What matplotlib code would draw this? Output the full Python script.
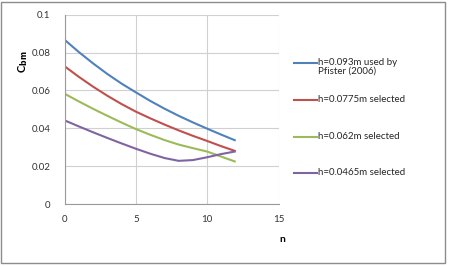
import numpy as np
import matplotlib.pyplot as plt
from matplotlib.lines import Line2D
from matplotlib.patches import Rectangle

plt.rcParams['font.family'] = ['Lato', 'DejaVu Sans']

n = [0, 1, 2, 3, 4, 5, 6, 7, 8, 9, 10, 11, 12]
c_093 = [0.0868, 0.0803, 0.0743, 0.0687, 0.0636, 0.0590, 0.0545, 0.0504, 0.0466, 0.0431, 0.0398, 0.0366, 0.0335]
c_0775 = [0.0728, 0.0672, 0.0620, 0.0572, 0.0528, 0.0488, 0.0453, 0.0420, 0.0389, 0.0360, 0.0333, 0.0305, 0.0279]
c_062 = [0.0583, 0.0542, 0.0503, 0.0466, 0.0430, 0.0396, 0.0366, 0.0338, 0.0314, 0.0295, 0.0277, 0.0250, 0.0223]
c_0465 = [0.0442, 0.0410, 0.0379, 0.0349, 0.0320, 0.0292, 0.0266, 0.0243, 0.0228, 0.0232, 0.0247, 0.0264, 0.0278]

series = [c_093, c_0775, c_062, c_0465]
labels = ['h=0.093m used by\nPfister (2006)', 'h=0.0775m selected',
          'h=0.062m selected', 'h=0.0465m selected']
colors = ['#4F81BD', '#C0504D', '#9BBB59', '#8064A2']

W, H = 449, 266
fig = plt.figure(figsize=(W / 100, H / 100), dpi=100)
ax = fig.add_axes([64.5 / W, 1 - 204 / H, 214 / W, 189.3 / H])

for ys, col in zip(series, colors):
    ax.plot(n, ys, color=col, lw=1.5, solid_capstyle='butt')

ax.set_xlim(0, 15)
ax.set_ylim(0, 0.1)
ax.set_xticks([0, 5, 10, 15])
ax.set_yticks([0, 0.02, 0.04, 0.06, 0.08, 0.1])
ax.set_yticklabels(['0', '0.02', '0.04', '0.06', '0.08', '0.1'])
ax.grid(True, color='#D0D0D0', lw=0.8)
ax.set_axisbelow(True)
for s in ['top', 'right']:
    ax.spines[s].set_visible(False)
for s in ['left', 'bottom']:
    ax.spines[s].set_color('#9A9A9A')
    ax.spines[s].set_linewidth(0.8)
ax.tick_params(length=0, labelsize=7, colors='#333333')
ax.tick_params(axis='y', pad=10)
ax.tick_params(axis='x', pad=8)

fig.text(23 / W, 1 - 62 / H, r'C$_{\mathbf{bm}}$', rotation=90, fontsize=8,
         fontweight='bold', ha='center', va='center')
fig.text(282 / W, 1 - 240 / H, 'n', fontsize=7.5, fontweight='bold',
         ha='center', va='center')

# legend drawn by hand so the first handle sits on the first text line
rows = [62.7, 100, 136.7, 173.3]
for lab, col, yy in zip(labels, colors, rows):
    fy = 1 - yy / H
    fig.add_artist(Line2D([294 / W, 317 / W], [fy, fy], color=col, lw=1.5))
    fig.text(318.5 / W, fy + 5 / H, lab, fontsize=7, ha='left', va='top',
             linespacing=1.0, color='#262626')

fig.add_artist(Rectangle((1 / W, 1 - 263 / H), 444 / W, 261 / H, fill=False,
                         edgecolor='#8C8C8C', lw=1.0, transform=fig.transFigure))

fig.savefig('out.png', dpi=100)
